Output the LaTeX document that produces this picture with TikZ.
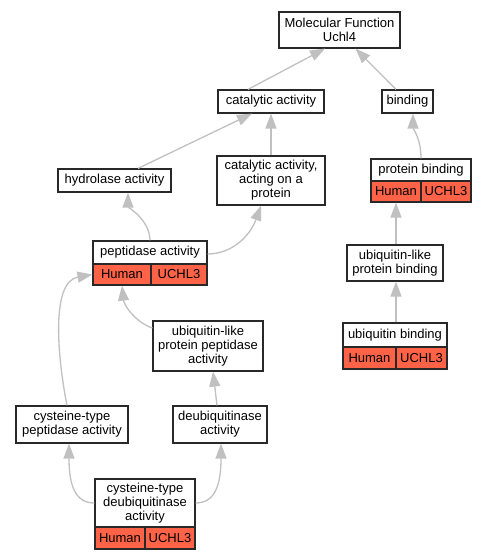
\documentclass[tikz,border=0pt]{standalone}
\usepackage{fontspec}
\setmainfont{Liberation Sans}
\usetikzlibrary{arrows.meta}
\definecolor{tomatored}{RGB}{255,99,71}
\definecolor{edgegray}{RGB}{192,192,192}
\definecolor{bordergray}{RGB}{40,40,40}
\tikzset{
  box/.style={draw=bordergray, line width=1.2pt, fill=white, inner sep=0pt, align=center,
    font=\fontsize{13}{14}\selectfont},
  cell/.style={box, fill=tomatored},
  edge/.style={draw=edgegray, line width=1.3pt, -{Triangle[length=15pt,width=11pt]}}
}
\begin{document}
\begin{tikzpicture}[x=1pt,y=-1pt]
\useasboundingbox (0,0) rectangle (485,560);
% nodes
\node[box, minimum width=121pt, minimum height=36pt] (mf) at (339.5,30) {Molecular Function\\Uchl4};
\node[box, minimum width=106pt, minimum height=23pt] (cat) at (271,101.5) {catalytic activity};
\node[box, minimum width=51pt, minimum height=23pt] (bind) at (407.5,101.5) {binding};
\node[box, minimum width=108pt, minimum height=49pt] (catp) at (271,180.5) {catalytic activity,\\acting on a\\protein};
\node[box, minimum width=100pt, minimum height=22pt] (pb) at (421,170) {protein binding};
\node[cell, minimum width=50pt, minimum height=21pt] (pbh) at (396,191.5) {Human};
\node[cell, minimum width=50pt, minimum height=21pt] (pbu) at (446,191.5) {UCHL3};
\node[box, minimum width=113pt, minimum height=23pt] (hyd) at (114.5,180.5) {hydrolase activity};
\node[box, minimum width=114pt, minimum height=23pt] (pep) at (150,252.5) {peptidase activity};
\node[cell, minimum width=58pt, minimum height=21pt] (peph) at (122,274.5) {Human};
\node[cell, minimum width=56pt, minimum height=21pt] (pepu) at (179,274.5) {UCHL3};
\node[box, minimum width=110pt, minimum height=50pt] (ulpp) at (208,346) {ubiquitin-like\\protein peptidase\\activity};
\node[box, minimum width=96pt, minimum height=36pt] (ulpb) at (395,263) {ubiquitin-like\\protein binding};
\node[box, minimum width=104pt, minimum height=24pt] (ub) at (395,335) {ubiquitin binding};
\node[cell, minimum width=53pt, minimum height=22pt] (ubh) at (369.5,358) {Human};
\node[cell, minimum width=51pt, minimum height=22pt] (ubu) at (421.5,358) {UCHL3};
\node[box, minimum width=112pt, minimum height=37pt] (ctp) at (72,424.5) {cysteine-type\\peptidase activity};
\node[box, minimum width=94pt, minimum height=37pt] (deub) at (220,424.5) {deubiquitinase\\activity};
\node[box, minimum width=100pt, minimum height=48pt] (cdeub) at (145,503) {cysteine-type\\deubiquitinase\\activity};
\node[cell, minimum width=50pt, minimum height=22pt] (cdh) at (120,538) {Human};
\node[cell, minimum width=50pt, minimum height=22pt] (cdu) at (170,538) {UCHL3};
% edges
\draw[edge] ([xshift=-23pt]cat.north) -- ([xshift=-14.5pt]mf.south);
\draw[edge] ([xshift=-11.5pt]bind.north) -- ([xshift=16pt]mf.south);
\draw[edge] ([xshift=23.5pt]hyd.north) -- ([xshift=-19pt]cat.south);
\draw[edge] (catp.north) -- (cat.south);
\draw[edge] (pb.north) .. controls ([yshift=20pt]pb.north) and ([xshift=5.5pt,yshift=-15pt]bind.south) .. ([xshift=5.5pt]bind.south);
\draw[edge] (pep.north) .. controls ([yshift=20pt]pep.north) and ([xshift=13.5pt,yshift=-14pt]hyd.south) .. ([xshift=13.5pt]hyd.south);
\draw[edge] ([yshift=-1.5pt]pep.east) .. controls (232,254) and (250,236) .. ([xshift=-10pt]catp.south);
\draw[edge] ([yshift=18pt]ulpp.west) .. controls (135,322) and (124,305) .. (peph.south);
\draw[edge] ([xshift=-5pt]ctp.north) .. controls (58,360) and (50,282) .. (peph.west);
\draw[edge] ([xshift=-3pt]deub.north) -- ([xshift=5pt]ulpp.south);
\draw[edge] (cdeub.west) .. controls (75,503) and (69,485) .. ([xshift=-3pt]ctp.south);
\draw[edge] (cdeub.east) .. controls (215,503) and (221,485) .. ([xshift=1pt]deub.south);
\draw[edge] ([xshift=1pt]ulpb.north) -- (pbh.south);
\draw[edge] ([xshift=1pt]ub.north) -- ([xshift=1pt]ulpb.south);
\end{tikzpicture}
\end{document}
